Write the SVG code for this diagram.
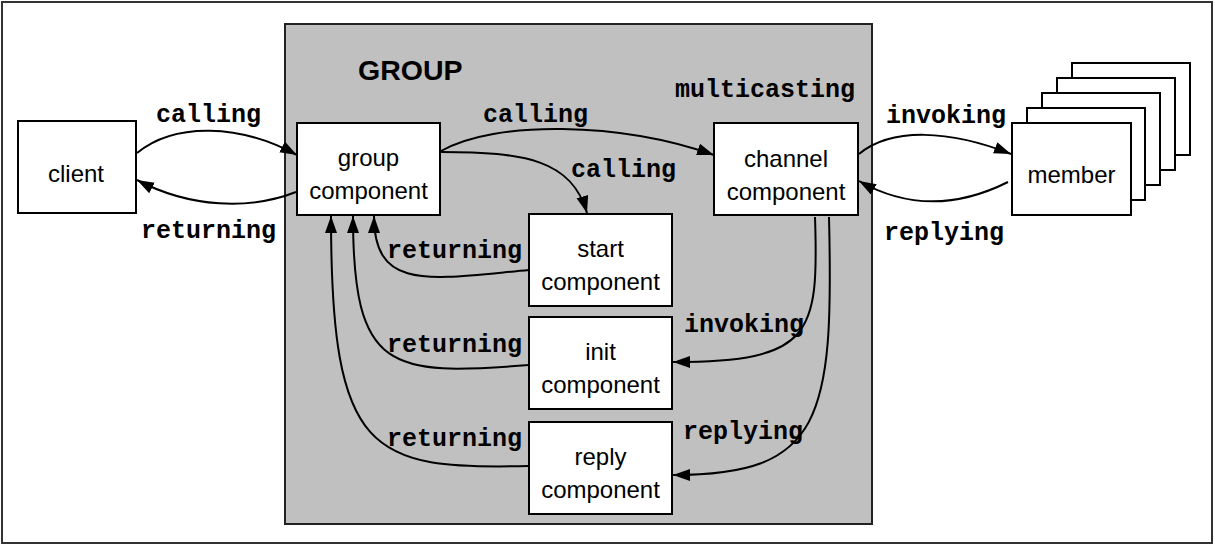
<svg xmlns="http://www.w3.org/2000/svg" width="1215" height="546" viewBox="0 0 1215 546">
<defs>
<style>
.box{fill:#fff;stroke:#000;stroke-width:2}
.lbl{font-family:"Liberation Sans",Arial,sans-serif;font-size:24px;fill:#000;text-anchor:middle}
.mono{font-family:"Liberation Mono","Courier New",monospace;font-size:25px;font-weight:bold;fill:#000}
.edge{fill:none;stroke:#000;stroke-width:2;marker-end:url(#ah)}
</style>
<marker id="ah" markerUnits="userSpaceOnUse" markerWidth="18" markerHeight="13" refX="17" refY="6" orient="auto">
<path d="M0,0 L17,6 L0,12 z" fill="#000"/>
</marker>
</defs>
<rect x="0" y="0" width="1215" height="546" fill="#fff"/>
<rect x="2" y="2" width="1210" height="541" fill="#fff" stroke="#333" stroke-width="2"/>
<g id="grp">
<rect x="285" y="24" width="587" height="500" fill="#c0c0c0" stroke="#222" stroke-width="2"/>
<text x="358" y="80" font-family="Liberation Sans,Arial,sans-serif" font-size="28.5" font-weight="bold">GROUP</text>
</g>
<g id="client"><rect class="box" x="18" y="121" width="118" height="92"/><text class="lbl" x="76" y="182">client</text></g>
<g id="groupcomp"><rect class="box" x="297" y="123" width="143" height="92"/><text class="lbl" x="368.5" y="166">group</text><text class="lbl" x="368.5" y="199">component</text></g>
<g id="channel"><rect class="box" x="714" y="123" width="144" height="92"/><text class="lbl" x="786" y="167">channel</text><text class="lbl" x="786" y="200">component</text></g>
<g id="start"><rect class="box" x="529" y="214" width="143" height="92"/><text class="lbl" x="600.5" y="257">start</text><text class="lbl" x="600.5" y="290">component</text></g>
<g id="init"><rect class="box" x="529" y="317" width="143" height="92"/><text class="lbl" x="600.5" y="360">init</text><text class="lbl" x="600.5" y="393">component</text></g>
<g id="reply"><rect class="box" x="529" y="422" width="143" height="92"/><text class="lbl" x="600.5" y="465">reply</text><text class="lbl" x="600.5" y="498">component</text></g>
<g id="member">
<rect class="box" x="1072" y="63" width="118" height="92"/>
<rect class="box" x="1057" y="78" width="118" height="92"/>
<rect class="box" x="1042" y="93" width="118" height="92"/>
<rect class="box" x="1027" y="108" width="118" height="92"/>
<rect class="box" x="1012" y="123" width="119" height="92"/>
<text class="lbl" x="1071.5" y="183">member</text>
</g>
<g id="connectors">
<path class="edge" d="M137,153 C175,122 240,124 297,155"/>
<path class="edge" d="M296,192 C250,210 190,208 137,180"/>
<path class="edge" d="M441,151 C495,120 620,122 714,155"/>
<path class="edge" d="M441,152 C525,152 572,160 587,213"/>
<path class="edge" d="M529,270 C430,279 374,292 374,216"/>
<path class="edge" d="M529,365 C390,376 353,372 353,216"/>
<path class="edge" d="M529,466 C370,470 331,455 331,216"/>
<path class="edge" d="M815,217 C819,335 812,362 673,362"/>
<path class="edge" d="M829,217 C834,420 822,475 673,475"/>
<path class="edge" d="M859,154 C892,127 950,130 1011,154"/>
<path class="edge" d="M1008,182 C960,206 910,210 859,181"/>
</g>
<g id="labels">
<text class="mono" x="156" y="122">calling</text>
<text class="mono" x="141" y="238">returning</text>
<text class="mono" x="483" y="122">calling</text>
<text class="mono" x="571" y="177">calling</text>
<text class="mono" x="675" y="97">multicasting</text>
<text class="mono" x="886" y="123">invoking</text>
<text class="mono" x="884" y="240">replying</text>
<text class="mono" x="387" y="258">returning</text>
<text class="mono" x="387" y="352">returning</text>
<text class="mono" x="387" y="446">returning</text>
<text class="mono" x="684" y="332">invoking</text>
<text class="mono" x="683" y="439">replying</text>
</g>
</svg>
